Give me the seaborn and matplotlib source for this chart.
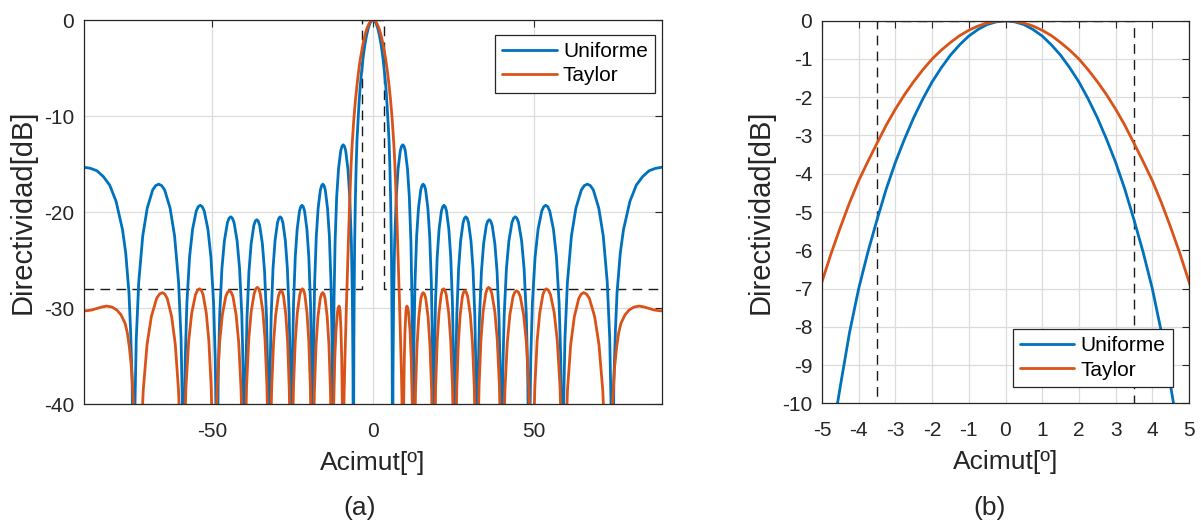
import numpy as np
import pandas as pd
import matplotlib
matplotlib.use("Agg")
import matplotlib.pyplot as plt
import seaborn as sns

# ---------------- data (positive half, pattern is symmetric) -------------
uniforme_acimut = [
    0, 0.25, 0.5, 0.75, 1.0, 1.25, 1.5, 1.75, 2.0, 2.25, 2.5, 2.75, 3.0, 3.25, 3.5, 3.75, 4.0,
    4.25, 4.5, 4.75, 5.0, 5.25, 5.5, 5.7, 5.85, 5.95, 6.03, 6.1,
    6.227, 6.418, 6.735, 7.243, 7.815, 8.513, 8.894, 9.275, 9.656, 10.037, 10.736, 11.307, 11.815, 12.133, 12.323, 12.45,
    12.577, 12.768, 13.085, 13.593, 14.165, 14.863, 15.244, 15.625, 16.006, 16.387, 17.086, 17.657, 18.165, 18.483, 18.673, 18.8,
    18.932, 19.13, 19.46, 19.988, 20.582, 21.308, 21.704, 22.1, 22.496, 22.892, 23.618, 24.212, 24.74, 25.07, 25.268, 25.4,
    25.54, 25.75, 26.1, 26.66, 27.29, 28.06, 28.48, 28.9, 29.32, 29.74, 30.51, 31.14, 31.7, 32.05, 32.26, 32.4,
    32.552, 32.78, 33.16, 33.768, 34.452, 35.288, 35.744, 36.2, 36.656, 37.112, 37.948, 38.632, 39.24, 39.62, 39.848, 40.0,
    40.172, 40.43, 40.86, 41.548, 42.322, 43.268, 43.784, 44.3, 44.816, 45.332, 46.278, 47.052, 47.74, 48.17, 48.428, 48.6,
    48.808, 49.12, 49.64, 50.472, 51.408, 52.552, 53.176, 53.8, 54.424, 55.048, 56.192, 57.128, 57.96, 58.48, 58.792, 59.0,
    59.31, 59.775, 60.55, 61.79, 63.185, 64.89, 65.82, 66.75, 67.68, 68.61, 70.315, 71.71, 72.95, 73.725, 74.19, 74.5,
    75.0, 75.5, 76.0, 77.0, 78.0, 80.0, 82.0, 84.0, 86.0, 88.0, 90.0]
uniforme_db = [
    0, -0.03, -0.10, -0.23, -0.40, -0.63, -0.90, -1.23, -1.60, -2.04, -2.53, -3.09, -3.70, -4.40, -5.20,
    -6.05, -7.00, -8.15, -9.55, -11.0, -12.6, -15.3, -18.8, -23.0, -28.0, -33.5, -42.0, -60.0,
    -37.0, -29.1, -23.2, -18.4, -15.5, -13.6, -13.15, -13.0, -13.15, -13.6, -15.5, -18.4, -23.2, -29.1, -37.0, -60.0,
    -41.1, -33.2, -27.3, -22.5, -19.6, -17.7, -17.25, -17.1, -17.25, -17.7, -19.6, -22.5, -27.3, -33.2, -41.1, -60.0,
    -43.3, -35.4, -29.5, -24.7, -21.8, -19.9, -19.45, -19.3, -19.45, -19.9, -21.8, -24.7, -29.5, -35.4, -43.3, -60.0,
    -44.5, -36.6, -30.7, -25.9, -23.0, -21.1, -20.65, -20.5, -20.65, -21.1, -23.0, -25.9, -30.7, -36.6, -44.5, -60.0,
    -44.8, -36.9, -31.0, -26.2, -23.3, -21.4, -20.95, -20.8, -20.95, -21.4, -23.3, -26.2, -31.0, -36.9, -44.8, -60.0,
    -44.5, -36.6, -30.7, -25.9, -23.0, -21.1, -20.65, -20.5, -20.65, -21.1, -23.0, -25.9, -30.7, -36.6, -44.5, -60.0,
    -43.3, -35.4, -29.5, -24.7, -21.8, -19.9, -19.45, -19.3, -19.45, -19.9, -21.8, -24.7, -29.5, -35.4, -43.3, -60.0,
    -41.1, -33.2, -27.3, -22.5, -19.6, -17.7, -17.25, -17.1, -17.25, -17.7, -19.6, -22.5, -27.3, -33.2, -41.1, -60.0,
    -37.6, -32.3, -28.4, -24.3, -21.85, -18.9, -17.2, -16.3, -15.7, -15.45, -15.34]

taylor_acimut = [
    0, 0.25, 0.5, 0.75, 1.0, 1.25, 1.5, 1.75, 2.0, 2.25, 2.5, 2.75, 3.0, 3.25, 3.5, 3.75, 4.0,
    4.25, 4.5, 4.75, 5.0, 5.25, 5.5, 5.75, 6.0, 6.25, 6.5, 6.75, 7.0, 7.25, 7.5, 7.75, 8.0,
    8.25, 8.5, 8.75, 9.0, 9.2, 9.3,
    9.35, 9.425, 9.55, 9.75, 9.975, 10.25, 10.4, 10.55, 10.802, 11.054, 11.516, 11.894, 12.23, 12.44, 12.566, 12.65,
    12.77, 12.949, 13.248, 13.726, 14.265, 14.922, 15.281, 15.64, 16.031, 16.422, 17.14, 17.726, 18.248, 18.574, 18.77, 18.9,
    19.023, 19.207, 19.514, 20.005, 20.558, 21.233, 21.602, 21.97, 22.388, 22.805, 23.571, 24.197, 24.754, 25.102, 25.311, 25.45,
    25.576, 25.765, 26.08, 26.584, 27.151, 27.844, 28.222, 28.6, 29.044, 29.488, 30.302, 30.968, 31.56, 31.93, 32.152, 32.3,
    32.448, 32.67, 33.04, 33.632, 34.298, 35.112, 35.556, 36.0, 36.504, 37.008, 37.932, 38.688, 39.36, 39.78, 40.032, 40.2,
    40.38, 40.65, 41.1, 41.82, 42.63, 43.62, 44.16, 44.7, 45.276, 45.852, 46.908, 47.772, 48.54, 49.02, 49.308, 49.5,
    49.68, 49.95, 50.4, 51.12, 51.93, 52.92, 53.46, 54.0, 54.636, 55.272, 56.438, 57.392, 58.24, 58.77, 59.088, 59.3,
    59.552, 59.93, 60.56, 61.568, 62.702, 64.088, 64.844, 65.6, 66.494, 67.388, 69.027, 70.368, 71.56, 72.305, 72.752, 73.05,
    73.5, 74.0, 74.6, 75.2, 75.9, 76.5, 77.2, 78.5, 79.8, 81.3, 82.9, 84.5, 86.0, 87.5, 89.0, 90.0]
taylor_db = [
    0, -0.015, -0.06, -0.14, -0.25, -0.39, -0.57, -0.77, -1.0, -1.28, -1.59, -1.93, -2.31, -2.73, -3.2,
    -3.68, -4.18, -4.76, -5.40, -6.08, -6.82, -7.6, -8.45, -9.4, -10.45, -11.65, -13.0, -14.6, -16.6,
    -18.9, -21.3, -23.9, -26.6, -29.4, -32.3, -35.4, -39.0, -44.0, -60.0,
    -53.8, -45.9, -40.0, -35.2, -32.3, -30.4, -29.95, -29.8, -29.95, -30.4, -32.3, -35.2, -40.0, -45.9, -53.8, -60.0,
    -52.4, -44.5, -38.6, -33.8, -30.9, -29.0, -28.55, -28.4, -28.55, -29.0, -30.9, -33.8, -38.6, -44.5, -52.4, -60.0,
    -52.0, -44.1, -38.2, -33.4, -30.5, -28.6, -28.15, -28.0, -28.15, -28.6, -30.5, -33.4, -38.2, -44.1, -52.0, -60.0,
    -52.2, -44.3, -38.4, -33.6, -30.7, -28.8, -28.35, -28.2, -28.35, -28.8, -30.7, -33.6, -38.4, -44.3, -52.2, -60.0,
    -51.85, -43.95, -38.05, -33.25, -30.35, -28.5, -28.0, -27.85, -28.0, -28.5, -30.35, -33.25, -38.05, -43.95, -51.85, -60.0,
    -52.2, -44.3, -38.4, -33.6, -30.7, -28.8, -28.35, -28.2, -28.35, -28.8, -30.7, -33.6, -38.4, -44.3, -52.2, -60.0,
    -52.0, -44.1, -38.2, -33.4, -30.5, -28.6, -28.15, -28.0, -28.15, -28.6, -30.5, -33.4, -38.2, -44.1, -52.0, -60.0,
    -52.4, -44.5, -38.6, -33.8, -30.9, -29.0, -28.55, -28.4, -28.55, -29.0, -30.9, -33.8, -38.6, -44.5, -52.4, -60.0,
    -50.0, -45.5, -40.0, -36.3, -34.0, -32.6, -31.6, -30.7, -30.2, -29.9, -29.8, -29.9, -30.05, -30.2, -30.28, -30.3]

# template (mask) drawn dashed
mascara_acimut = [-90, -3.5, -3.5, 3.5, 3.5, 90]
mascara_db = [-28, -28, 0, 0, -28, -28]

series_names = ["Uniforme", "Taylor"]
colors = ["#0072BD", "#D95319"]


def full_pattern(acimut, db):
    a = np.asarray(acimut, float)
    d = np.asarray(db, float)
    return np.concatenate([-a[:0:-1], a]), np.concatenate([d[:0:-1], d])


ux, uy = full_pattern(uniforme_acimut, uniforme_db)
tx, ty = full_pattern(taylor_acimut, taylor_db)
df = pd.concat([
    pd.DataFrame({"Acimut": ux, "Directividad": uy, "Curva": series_names[0]}),
    pd.DataFrame({"Acimut": tx, "Directividad": ty, "Curva": series_names[1]}),
], ignore_index=True)

# ---------------- style ----------------
sns.set_theme(style="whitegrid")
plt.rcParams["font.family"] = ["Liberation Sans", "DejaVu Sans"]
plt.rcParams["axes.unicode_minus"] = False

dark = "#262626"
fig = plt.figure(figsize=(12.01, 5.23), dpi=100)
ax_a = fig.add_axes([84 / 1201, 1 - 404 / 523, 578 / 1201, 384 / 523])
ax_b = fig.add_axes([822 / 1201, 1 - 403.3 / 523, 367 / 1201, 382.6 / 523])

tick_fs = 15
xlabel_fs = 19
ylabel_fs = 21

for ax in (ax_a, ax_b):
    sns.lineplot(data=df, x="Acimut", y="Directividad", hue="Curva",
                 hue_order=series_names, palette=colors, estimator=None,
                 sort=False, linewidth=2.0, ax=ax)
    ax.plot(mascara_acimut, mascara_db, linestyle=(0, (7, 4.5)), color="#1a1a1a",
            linewidth=1.0, zorder=1.5)
    ax.set_facecolor("white")
    ax.grid(True, color="#dcdcdc", linewidth=0.9)
    for sp in ax.spines.values():
        sp.set_visible(True)
        sp.set_color(dark)
        sp.set_linewidth(0.9)
    ax.tick_params(direction="in", length=5, width=0.8, colors=dark,
                   top=True, right=True, labelsize=tick_fs, pad=7)
    ax.tick_params(axis="x", pad=13)
    ax.set_xlabel("Acimut[º]", fontsize=xlabel_fs, color=dark, labelpad=7)
    ax.set_ylabel("Directividad[dB]", fontsize=ylabel_fs, color=dark, labelpad=5)

ax_a.set_xlim(-90, 90)
ax_a.set_ylim(-40, 0)
ax_a.set_xticks([-50, 0, 50])
ax_a.set_yticks([-40, -30, -20, -10, 0])

ax_b.set_xlim(-5, 5)
ax_b.set_ylim(-10, 0)
ax_b.set_xticks(list(range(-5, 6)))
ax_b.set_yticks(list(range(-10, 1)))

for ax, loc, anchor in ((ax_a, "upper right", (0.988, 0.961)),
                        (ax_b, "lower right", (0.956, 0.043))):
    h, l = ax.get_legend_handles_labels()
    leg = ax.legend(h[:2], l[:2], loc=loc, bbox_to_anchor=anchor, fontsize=tick_fs,
                    frameon=True, fancybox=False, edgecolor=dark, framealpha=1,
                    handlelength=2.6, handletextpad=0.3, borderpad=0.35,
                    labelspacing=0.25, borderaxespad=0)
    leg.get_frame().set_linewidth(0.9)
    for t in leg.get_texts():
        t.set_color("black")

fig.text(360 / 1201, 1 - 508 / 523, "(a)", ha="center", va="center", fontsize=xlabel_fs, color=dark)
fig.text(990 / 1201, 1 - 508 / 523, "(b)", ha="center", va="center", fontsize=xlabel_fs, color=dark)

fig.savefig("out.png", dpi=100)
